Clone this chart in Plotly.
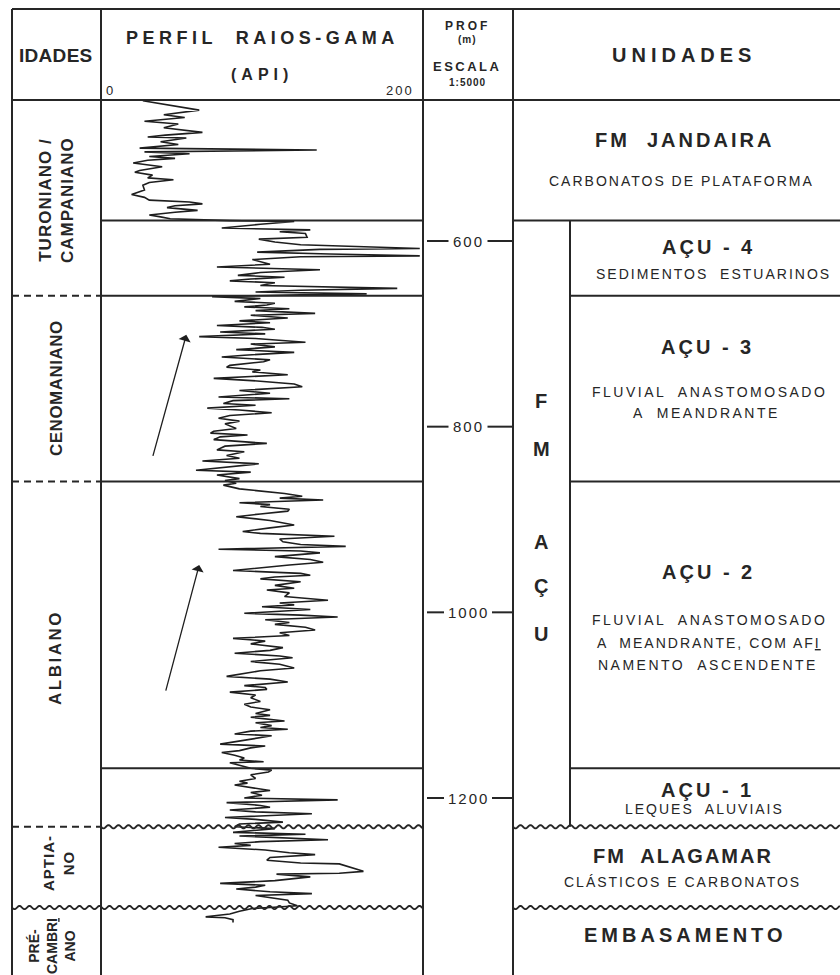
import numpy as np
import plotly.graph_objects as go

W, H = 840, 975
INK = "#262626"
FONT = "Liberation Sans"

# ---------------- gamma-ray log (depth m, gamma API) -------------
depth_turoniano = [449, 452, 459, 464, 467, 471, 474, 478, 483, 486,
                   488, 489, 493, 496, 500, 502, 504, 506, 509, 511,
                   513, 516, 518, 520, 524, 526, 529, 532, 534, 537,
                   540, 545, 550, 553, 556, 558, 560, 562, 564, 567,
                   569, 572, 574, 576]
gamma_turoniano = [26, 37, 61, 39, 52, 27, 48, 39, 63, 40,
                   29, 53, 37, 48, 24, 134, 27, 55, 30, 46,
                   29, 20, 30, 38, 24, 21, 32, 29, 45, 30,
                   26, 27, 19, 27, 30, 55, 63, 46, 41, 60,
                   46, 30, 37, 43]

depth_acu4 = [578, 579, 582, 586, 588, 590, 592, 596, 598, 601,
              604, 608, 609, 612, 614, 616, 617, 620, 625, 628,
              631, 634, 637, 639, 641, 643, 645, 648, 651, 653,
              655, 657, 658]
gamma_acu4 = [80, 120, 99, 75, 130, 111, 127, 128, 98, 108,
              124, 198, 136, 97, 142, 198, 124, 94, 105, 72,
              136, 99, 85, 114, 93, 80, 108, 99, 184, 124,
              96, 165, 124]

depth_acu3 = [660, 662, 665, 667, 669, 671, 673, 675, 678, 680,
              683, 686, 688, 691, 693, 695, 698, 700, 703, 705,
              709, 711, 714, 717, 720, 723, 725, 728, 730, 734,
              736, 739, 741, 744, 748, 751, 754, 757, 761, 764,
              768, 770, 772, 775, 777, 780, 782, 785, 788, 791,
              794, 797, 802, 805, 807, 809, 811, 814, 818, 821,
              825, 827, 831, 834, 837, 840, 844, 847, 849, 852,
              856, 858, 861, 863]
gamma_acu3 = [69, 99, 83, 108, 103, 89, 117, 96, 133, 93,
              116, 86, 105, 72, 100, 108, 74, 102, 61, 96,
              127, 93, 108, 84, 120, 89, 75, 105, 101, 80,
              78, 99, 94, 116, 70, 99, 120, 125, 86, 105,
              73, 117, 82, 76, 96, 66, 86, 106, 80, 73,
              86, 77, 84, 70, 68, 91, 74, 70, 103, 77,
              72, 89, 78, 86, 63, 98, 74, 59, 93, 72,
              86, 77, 84, 76]

depth_acu2 = [867, 872, 875, 877, 879, 882, 884, 886, 889, 891,
              894, 897, 901, 903, 906, 909, 913, 915, 918, 921,
              924, 927, 929, 932, 934, 936, 940, 943, 946, 949,
              952, 955, 958, 960, 962, 964, 967, 971, 974, 976,
              979, 983, 987, 990, 992, 994, 997, 999, 1001, 1003,
              1005, 1008, 1011, 1013, 1016, 1019, 1022, 1025, 1028, 1031,
              1034, 1038, 1041, 1044, 1047, 1049, 1053, 1056, 1060, 1063,
              1067, 1069, 1072, 1075, 1079, 1081, 1083, 1086, 1089, 1092,
              1096, 1099, 1102, 1105, 1109, 1111, 1113, 1115, 1117, 1119,
              1122, 1124, 1126, 1128, 1131, 1133, 1136, 1139, 1142, 1144,
              1146, 1149, 1151, 1154, 1157, 1159, 1161, 1162, 1166]
gamma_acu2 = [86, 114, 125, 111, 138, 86, 105, 99, 117, 116,
              99, 84, 105, 111, 120, 105, 88, 99, 145, 111,
              113, 124, 152, 73, 124, 136, 108, 130, 138, 117,
              99, 82, 124, 130, 108, 99, 124, 108, 120, 103,
              117, 114, 141, 111, 120, 100, 130, 111, 89, 124,
              147, 102, 117, 108, 127, 133, 111, 117, 82, 102,
              93, 113, 105, 83, 111, 119, 93, 111, 120, 99,
              86, 78, 105, 116, 89, 102, 103, 80, 96, 93,
              99, 89, 93, 105, 96, 105, 93, 102, 114, 96,
              106, 99, 116, 93, 83, 106, 96, 86, 74, 102,
              93, 86, 75, 83, 89, 86, 101, 80, 89]

depth_acu1 = [1168, 1170, 1172, 1175, 1179, 1182, 1184, 1186, 1190, 1192,
              1194, 1197, 1200, 1202, 1205, 1208, 1210, 1213, 1215, 1217,
              1221, 1223, 1226, 1228]
gamma_acu1 = [93, 106, 104, 93, 96, 86, 91, 83, 96, 105,
              93, 100, 89, 147, 78, 99, 105, 80, 96, 131,
              77, 96, 113, 86]

depth_alagamar = [1231, 1233, 1237, 1239, 1241, 1245, 1247, 1249, 1251, 1253,
                  1256, 1259, 1261, 1264, 1267, 1270, 1271, 1276, 1279, 1281,
                  1282, 1285, 1289, 1292, 1294, 1296, 1298, 1301, 1303, 1305,
                  1307, 1310, 1313, 1316, 1318, 1319, 1322, 1325, 1328, 1329,
                  1331, 1334]
gamma_alagamar = [83, 108, 82, 127, 86, 141, 99, 83, 93, 73,
                  102, 117, 133, 105, 103, 124, 148, 158, 163, 148,
                  109, 130, 108, 74, 102, 96, 84, 105, 131, 96,
                  105, 116, 117, 122, 105, 94, 86, 80, 65, 77,
                  82, 82]

depth_ticks = [600, 800, 1000, 1200]
gamma_range = [0, 200]

# unit tops (m)
top_acu4 = 578
top_acu3 = 659
top_acu2 = 859
top_acu1 = 1168
top_alagamar = 1231
top_embasamento = 1318

# trend arrows (API, m)
arrow_tail_api = [32, 40]
arrow_tail_depth = [833, 1086]
arrow_head_api = [53, 61]
arrow_head_depth = [701, 949]

depth = (depth_turoniano + depth_acu4 + depth_acu3 + depth_acu2
         + depth_acu1 + depth_alagamar)
gamma = (gamma_turoniano + gamma_acu4 + gamma_acu3 + gamma_acu2
         + gamma_acu1 + gamma_alagamar)

# ---------------- page geometry (pixels) ----------------
X_LEFT, X_AGE, X_GR, X_PROF, X_FMACU, X_RIGHT = 12, 101, 423, 513, 570, 840
Y_TOP, Y_HDR = 9, 100
# depth axis calibration: 600 m at 241 px, 1200 m at 798 px
M_PER_PX = 600.0 / 557.0
D_TOP = 600 - 241 * M_PER_PX
D_BOT = 600 + (H - 241) * M_PER_PX


def px(x):
    return x / W


def py(y):
    return 1 - y / H


fig = go.Figure()
fig.add_trace(go.Scatter(x=gamma, y=depth, mode="lines",
                         line=dict(color="#1e1e1e", width=1.6),
                         hoverinfo="skip", showlegend=False))

LINE = dict(color=INK, width=2)
shapes = []


def vline(x, y0, y1, yref="paper"):
    if yref == "paper":
        shapes.append(dict(type="line", xref="paper", yref="paper",
                           x0=px(x), x1=px(x), y0=py(y0), y1=py(y1), line=LINE))
    else:
        shapes.append(dict(type="line", xref="paper", yref="y",
                           x0=px(x), x1=px(x), y0=y0, y1=y1, line=LINE))


def hline_px(y, x0, x1):
    shapes.append(dict(type="line", xref="paper", yref="paper",
                       x0=px(x0), x1=px(x1), y0=py(y), y1=py(y), line=LINE))


def hline_d(d, x0, x1, dash=None):
    ln = dict(LINE)
    if dash:
        ln["dash"] = dash
    shapes.append(dict(type="line", xref="paper", yref="y",
                       x0=px(x0), x1=px(x1), y0=d, y1=d, line=ln))


def wavy(d, x0, x1, period=10.0, amp_px=1.6):
    xs = np.arange(x0, x1 + 0.01, 1.0)
    ys = d + amp_px * M_PER_PX * np.sin(2 * np.pi * (xs - x0) / period)
    path = "M " + " L ".join(f"{px(a):.5f},{b:.3f}" for a, b in zip(xs, ys))
    shapes.append(dict(type="path", path=path, xref="paper", yref="y",
                       line=dict(color=INK, width=1.8)))


# frame
hline_px(Y_TOP, X_LEFT, X_RIGHT)
hline_px(Y_HDR, X_LEFT, X_RIGHT)
for xv in (X_LEFT, X_AGE, X_GR, X_PROF):
    vline(xv, Y_TOP, H)
vline(X_FMACU, top_acu4, top_alagamar, yref="y")

# gamma column boundaries
for d in (top_acu4, top_acu3, top_acu2, top_acu1):
    hline_d(d, X_AGE, X_GR)
# age boundaries (dashed)
for d in (top_acu3, top_acu2, top_alagamar):
    hline_d(d, X_LEFT, X_AGE, dash="7px,5px")
# units column
hline_d(top_acu4, X_PROF, X_RIGHT)
for d in (top_acu3, top_acu2, top_acu1):
    hline_d(d, X_FMACU, X_RIGHT)
# unconformities
wavy(top_alagamar, X_AGE, X_GR)
wavy(top_alagamar, X_PROF, X_RIGHT)
wavy(top_embasamento, X_LEFT, X_GR)
wavy(top_embasamento, X_PROF, X_RIGHT)

# depth ticks in PROF column
PROF_C = 468
for d in depth_ticks:
    half = 9 * len(str(d)) / 2 + 6
    hline_d(d, X_GR + 4, PROF_C - half)
    hline_d(d, PROF_C + half, X_PROF)

ann = []


def sp(text, ls):
    lines = text.split("<br>")
    if ls:
        lines = [f'<span style="letter-spacing:{ls}px">{l}</span>' for l in lines]
    return "<br>".join(lines)


def A(text, x, y, size, bold=False, ls=0, angle=0, yref="paper"):
    ann.append(dict(text=sp(text, ls), x=px(x),
                    y=py(y) if yref == "paper" else y,
                    xref="paper", yref=yref, showarrow=False,
                    xanchor="center", yanchor="middle", textangle=angle,
                    font=dict(family=FONT, size=size, color=INK,
                              weight="bold" if bold else "normal")))


U = '<span style="text-decoration:underline">I</span>'

# header
A("IDADES", 56, 55, 19, True, 0.3)
A("PERFIL  RAIOS-GAMA", 262, 38, 18, True, 4.5)
A("(API)", 262, 74, 16, True, 5)
A(str(gamma_range[0]), 109, 90, 13)
A(str(gamma_range[1]), 400, 90, 13, False, 2)
A("PROF", 467, 26, 12, True, 3)
A("(m)", 467, 40, 10, True, 1)
A("ESCALA", 467, 66, 13, True, 2.5)
A("1:5000", 467, 82, 10, True, 1)
A("UNIDADES", 684, 55, 20, True, 5)

# ages
A("TURONIANO /<br>CAMPANIANO", 57, 200, 17, True, 1, -90)
A("CENOMANIANO", 56, 388, 17, True, 0.5, -90)
A("ALBIANO", 55, 658, 17, True, 2.5, -90)
A("APTIA-<br>NO", 58, 863, 15, True, 1, -90)
A("PRÉ-<br>CAMBR" + U + "<br>ANO", 52, 946, 14, True, 0, -90)

# depth tick labels
for d in depth_ticks:
    A(str(d), PROF_C, d, 15, False, 2, yref="y")

# units
A("FM  JANDAIRA", 684, 140, 20, True, 3)
A("CARBONATOS DE PLATAFORMA", 681, 181, 14, False, 2)
for ch, yy in zip(["F", "M", "A", "Ç", "U"], [401, 449, 542, 586, 634]):
    A(ch, 541, yy, 20, True)
A("AÇU - 4", 708, 247, 20, True, 3)
A("SEDIMENTOS  ESTUARINOS", 713, 274, 14, False, 2)
A("AÇU - 3", 707, 347, 20, True, 3)
A("FLUVIAL  ANASTOMOSADO", 709, 392, 14, False, 2.5)
A("A  MEANDRANTE", 706, 413, 14, False, 2.5)
A("AÇU - 2", 708, 572, 20, True, 3)
A("FLUVIAL  ANASTOMOSADO", 709, 620, 14, False, 2.5)
A("A  MEANDRANTE, COM AF" + U, 709, 643, 14, False, 2)
A("NAMENTO  ASCENDENTE", 708, 665, 14, False, 2.5)
A("AÇU - 1", 707, 790, 20, True, 3)
A("LEQUES  ALUVIAIS", 704, 809, 14, False, 2)
A("FM  ALAGAMAR", 683, 856, 20, True, 2)
A("CLÁSTICOS E CARBONATOS", 682, 882, 14, False, 2)
A("EMBASAMENTO", 685, 935, 20, True, 4)

# trend arrows
for ta, td, ha, hd in zip(arrow_tail_api, arrow_tail_depth, arrow_head_api, arrow_head_depth):
    ann.append(dict(x=ha, y=hd, ax=ta, ay=td, xref="x", yref="y",
                    axref="x", ayref="y", text="", showarrow=True,
                    arrowhead=1, arrowsize=1.6, arrowwidth=1.3,
                    arrowcolor="#1e1e1e", standoff=0, startstandoff=0))

fig.update_layout(
    width=W, height=H,
    margin=dict(l=0, r=0, t=0, b=0),
    paper_bgcolor="white", plot_bgcolor="rgba(0,0,0,0)",
    xaxis=dict(domain=[X_AGE / W, X_GR / W], range=gamma_range,
               visible=False, fixedrange=True),
    yaxis=dict(domain=[0, 1], range=[D_BOT, D_TOP], visible=False,
               fixedrange=True),
    shapes=shapes, annotations=ann, showlegend=False,
)

fig.write_html("out.html", config={"displayModeBar": False},
               post_script="document.body.style.margin='0';document.body.style.overflow='hidden';")
